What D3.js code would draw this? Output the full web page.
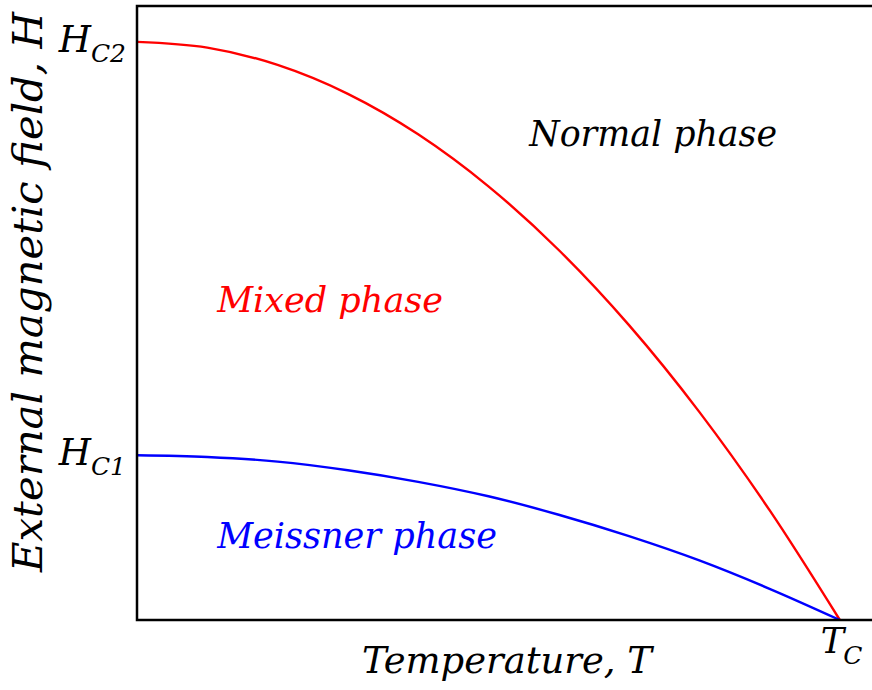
<!DOCTYPE html>
<html>
<head>
<meta charset="utf-8">
<script src="https://cdn.jsdelivr.net/npm/d3@7"></script>
<style>
  html, body { margin: 0; padding: 0; background: #fff; }
  svg text { font-family: "DejaVu Serif", serif; font-style: italic; }
</style>
</head>
<body>
<svg id="chart" width="872" height="690"></svg>
<script>
// Reduced temperature T/Tc at which the phase boundaries are sampled
const temperature = [0, 0.1, 0.2, 0.3, 0.4, 0.5, 0.6, 0.7, 0.8, 0.9, 1.0];
// Upper critical field Hc2(T), normalised to Hc2(0)
const upperCritical = [1.0, 0.99, 0.96, 0.91, 0.84, 0.75, 0.64, 0.51, 0.36, 0.19, 0.0];
// Lower critical field Hc1(T), same units
const lowerCritical = [0.285, 0.282, 0.274, 0.259, 0.239, 0.214, 0.182, 0.145, 0.103, 0.054, 0.0];
// Tick labels on the field axis
const fieldTicks = [
  { value: 1.0, main: "H", sub: "C2" },
  { value: 0.285, main: "H", sub: "C1" }
];
const tempTicks = [{ value: 1.0, main: "T", sub: "C" }];
// Region annotations
const regions = [
  { text: "Normal phase", t: 0.558, h: 0.82, color: "#000", width: 248 },
  { text: "Mixed phase", t: 0.114, h: 0.533, color: "#ff0000", width: 226 },
  { text: "Meissner phase", t: 0.114, h: 0.125, color: "#0000ff", width: 280 }
];

const svg = d3.select("#chart");
const plotLeft = 137, plotTop = 6, plotBottom = 620, plotRight = 875;

const x = d3.scaleLinear().domain([0, 1.05]).range([plotLeft, plotRight]);
const y = d3.scaleLinear().domain([0, 1.062]).range([plotBottom, plotTop]);

// Size a text node so that it spans the wanted width with natural spacing
function fitWidth(sel, width) {
  const base = 40;
  sel.attr("font-size", base);
  const w = sel.node().getComputedTextLength();
  sel.attr("font-size", base * width / w);
  return sel;
}

// Phase boundary curves
const line = (vals) => d3.line()
  .x((d, i) => x(temperature[i]))
  .y(d => y(d))
  .curve(d3.curveMonotoneX)(vals);

svg.append("path")
  .attr("d", line(upperCritical))
  .attr("fill", "none")
  .attr("stroke", "#ff0000")
  .attr("stroke-width", 2.4);

svg.append("path")
  .attr("d", line(lowerCritical))
  .attr("fill", "none")
  .attr("stroke", "#0000ff")
  .attr("stroke-width", 2.4);

// Frame
svg.append("rect")
  .attr("x", plotLeft).attr("y", plotTop)
  .attr("width", plotRight - plotLeft).attr("height", plotBottom - plotTop)
  .attr("fill", "none")
  .attr("stroke", "#000")
  .attr("stroke-width", 2.5);

// Field axis tick labels (no tick marks)
fieldTicks.forEach(tk => {
  const t = svg.append("text")
    .attr("x", 126)
    .attr("y", y(tk.value) + 10)
    .attr("text-anchor", "end")
    .attr("font-size", 37)
    .attr("fill", "#000");
  t.append("tspan").text(tk.main);
  t.append("tspan").attr("dy", 10).attr("font-size", 25).text(tk.sub);
});

// Temperature axis tick label
tempTicks.forEach(tk => {
  const t = svg.append("text")
    .attr("x", x(tk.value) - 19)
    .attr("y", 653)
    .attr("font-size", 35)
    .attr("fill", "#000");
  t.append("tspan").text(tk.main);
  t.append("tspan").attr("dy", 11).attr("dx", -1).attr("font-size", 25).text(tk.sub);
});

// Region labels
regions.forEach(r => {
  const t = svg.append("text")
    .attr("x", x(r.t))
    .attr("y", y(r.h))
    .attr("fill", r.color)
    .text(r.text);
  fitWidth(t, r.width);
});

// Axis titles
fitWidth(svg.append("text")
  .attr("x", 362)
  .attr("y", 673)
  .attr("fill", "#000")
  .text("Temperature, T"), 290);

fitWidth(svg.append("text")
  .attr("transform", "translate(42,572) rotate(-90)")
  .attr("x", 0)
  .attr("y", 0)
  .attr("fill", "#000")
  .text("External magnetic field, H"), 560);
</script>
</body>
</html>
